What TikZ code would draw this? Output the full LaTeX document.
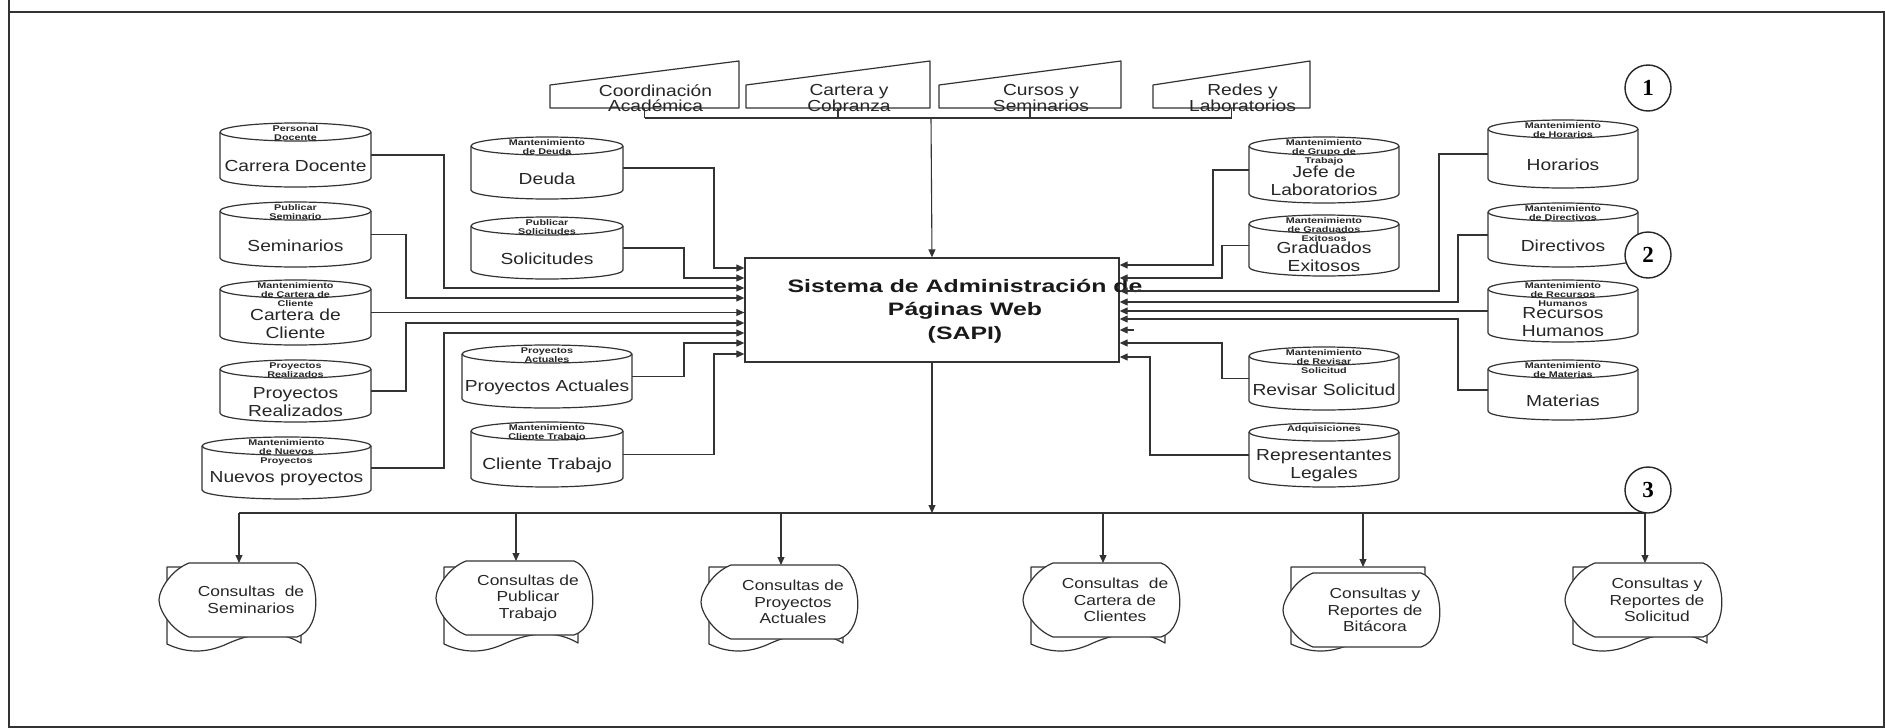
\documentclass[tikz,border=0pt]{standalone}
\usepackage{fontspec}
\setmainfont{Liberation Sans}
\newfontfamily\labf[FakeStretch=1.2]{Liberation Sans}
\newfontfamily\smlf[FakeStretch=1.3]{Liberation Sans}
\newfontfamily\ttlf[FakeStretch=1.38]{Liberation Sans}
\newfontfamily\numf{Liberation Serif}
\usetikzlibrary{arrows.meta,calc}

\tikzset{
  ln/.style={draw=black!80, line width=1.1pt},
  arr/.style={ln, -{Triangle[length=8pt,width=7pt]}},
  box0/.style={inner sep=0pt, outer sep=0pt, draw=none, rectangle},
  cylline/.style={draw=black!80, line width=1.2pt, line join=round},
  lab/.style={font=\labf\fontsize{16}{18}\selectfont, align=center, inner sep=0pt, text=black!85},
  sml/.style={font=\smlf\bfseries\fontsize{8.3}{8.7}\selectfont, align=center, inner sep=0pt, text=black!85},
  trl/.style={font=\labf\fontsize{16}{14.5}\selectfont, align=center, inner sep=0pt, text=black!85},
  docl/.style={font=\labf\fontsize{14.5}{16.5}\selectfont, align=center, inner sep=0pt, text=black!85},
  ttl/.style={font=\ttlf\bfseries\fontsize{18}{23.5}\selectfont, align=center, inner sep=0pt, text=black!90},
  mainbox/.style={draw=black!80, line width=1.3pt, inner sep=0pt, minimum width=374pt, minimum height=104pt},
  circ/.style={circle, draw=black!85, line width=1.4pt, fill=white, minimum size=46pt, inner sep=0pt,
     font=\numf\bfseries\fontsize{23}{23}\selectfont},
  frame/.style={draw=black!80, line width=1.6pt}
}

% cylinder: name, x0, y0, x1, y1, small label, main label
\newcommand\mkcyl[7]{%
  \pgfmathsetmacro\xc{(#2+#4)/2}%
  \pgfmathsetmacro\rx{(#4-#2)/2}%
  \pgfmathsetmacro\ww{#4-#2}%
  \pgfmathsetmacro\hh{#5-#3}%
  \pgfmathsetmacro\yc{(#3+#5)/2}%
  \pgfmathsetmacro\yt{#3+9}%
  \pgfmathsetmacro\ybb{#5-9}%
  \pgfmathsetmacro\kx{0.5523*\rx}%
  \pgfmathsetmacro\ky{0.5523*9}%
  \pgfmathsetmacro\ym{(#3+18+#5)/2+2}%
  \node[box0, minimum width=\ww pt, minimum height=\hh pt] (#1) at (\xc,\yc) {};
  \draw[cylline] (#2,\yt) -- (#2,\ybb) .. controls (#2,\ybb+\ky) and (\xc-\kx,#5) .. (\xc,#5)
     .. controls (\xc+\kx,#5) and (#4,\ybb+\ky) .. (#4,\ybb) -- (#4,\yt);
  \draw[cylline] (\xc,\yt) ellipse [x radius=\rx pt, y radius=9pt];
  \node[sml, anchor=north] (#1s) at (\xc,#3+2.5) {#6};
  \node[lab] (#1m) at (\xc,\ym) {#7};
}

% manual input shape: name, x0, x1, line1, line2
\newcommand\mktrap[5]{%
  \pgfmathsetmacro\tc{(#2+#3)/2}%
  \pgfmathsetmacro\tw{#3-#2}%
  \node[box0, minimum width=\tw pt, minimum height=47pt] (#1) at (\tc,84.5) {};
  \draw[cylline] (#1.south west) -- (#2,85) -- (#1.north east) -- (#1.south east) -- cycle;
  \node[trl] (#1t) at (\tc+11,98) {#4\\#5};
}

% document + display: name, cx, text, front dy
\newcommand\mkdoc[4]{%
  \pgfmathsetmacro\dx{#2}%
  \pgfmathsetmacro\fy{600+#4}%
  \draw[cylline, fill=white] (\dx-72,567) -- (\dx+62,567) -- (\dx+62,643)
     .. controls (\dx+40,630) and (\dx+15,632) .. (\dx-10,643)
     .. controls (\dx-35,655) and (\dx-55,652) .. (\dx-72,644) -- cycle;
  \draw[cylline, fill=white] (\dx-50,\fy-37) -- (\dx+58,\fy-37)
     .. controls (\dx+80,\fy-30) and (\dx+86,\fy+28) .. (\dx+58,\fy+37) -- (\dx-50,\fy+37)
     .. controls (\dx-68,\fy+30) and (\dx-80,\fy+10) .. (\dx-80,\fy)
     .. controls (\dx-80,\fy-10) and (\dx-68,\fy-30) .. (\dx-50,\fy-37) -- cycle;
  \node[box0, minimum width=160pt, minimum height=74pt] (#1) at (\dx,\fy) {};
  \coordinate (#1b) at (\dx,567);
  \node[docl] (#1t) at (\dx+12,\fy) {#3};
}

\begin{document}
\begin{tikzpicture}[x=1pt,y=-1pt]
\useasboundingbox (0,0) rectangle (1885,728);
\fill[white] (0,0) rectangle (1885,728);

% frame
\draw[frame] (9,0) -- (9,727) -- (1884,727) -- (1884,12);
\draw[frame] (9,12) -- (1885,12);

% central box
\node[mainbox] (box) at (932,310) {};
\node[ttl] (title) at (965,311) {Sistema de Administración de\\Páginas Web\\(SAPI)};

% top manual inputs
\mktrap{T1}{550}{739}{Coordinación}{Académica}
\mktrap{T2}{746}{930}{Cartera y}{Cobranza}
\mktrap{T3}{939}{1121}{Cursos y}{Seminarios}
\mktrap{T4}{1153}{1310}{Redes y}{Laboratorios}
\coordinate (tbus) at (931,118);
\draw[ln] (T1.south |- tbus) -- (T4.south |- tbus);
\foreach \t in {T1,T2,T3,T4} \draw[ln] (\t.south) -- (\t.south |- tbus);
\draw[arr] (tbus) -- (box.north);

% left column
\mkcyl{CD}{220}{123}{371}{187}{Personal\\Docente}{Carrera Docente}
\mkcyl{SE}{220}{202}{371}{267}{Publicar\\Seminario}{Seminarios}
\mkcyl{CC}{220}{280}{371}{345}{Mantenimiento\\de Cartera de\\Cliente}{Cartera de\\Cliente}
\mkcyl{PR}{220}{360}{371}{422}{Proyectos\\Realizados}{Proyectos\\Realizados}
\mkcyl{NP}{202}{437}{371}{499}{Mantenimiento\\de Nuevos\\Proyectos}{Nuevos proyectos}
% second column
\mkcyl{DE}{471}{137}{623}{199}{Mantenimiento\\de Deuda}{Deuda}
\mkcyl{SO}{471}{217}{623}{279}{Publicar\\Solicitudes}{Solicitudes}
\mkcyl{PA}{462}{345}{632}{408}{Proyectos\\Actuales}{Proyectos Actuales}
\mkcyl{CT}{471}{422}{623}{487}{Mantenimiento\\Cliente Trabajo}{Cliente Trabajo}
% right inner column
\mkcyl{JL}{1249}{137}{1399}{203}{Mantenimiento\\de Grupo de\\Trabajo}{Jefe de\\Laboratorios}
\mkcyl{GE}{1249}{215}{1399}{276}{Mantenimiento\\de Graduados\\Exitosos}{Graduados\\Exitosos}
\mkcyl{RS}{1249}{347}{1399}{410}{Mantenimiento\\de Revisar\\Solicitud}{Revisar Solicitud}
\mkcyl{RL}{1249}{423}{1399}{487}{Adquisiciones}{Representantes\\Legales}
% right outer column
\mkcyl{HO}{1488}{120}{1638}{188}{Mantenimiento\\de Horarios}{Horarios}
\mkcyl{DI}{1488}{203}{1638}{267}{Mantenimiento\\de Directivos}{Directivos}
\mkcyl{RH}{1488}{280}{1638}{342}{Mantenimiento\\de Recursos\\Humanos}{Recursos\\Humanos}
\mkcyl{MA}{1488}{360}{1638}{420}{Mantenimiento\\de Materias}{Materias}

% left connectors
\draw[arr] (DE.east) -| (714,268) -- (box.west |- 0,268);
\draw[arr] (SO.east) -| (684,278) -- (box.west |- 0,278);
\draw[arr] (CD.east) -| (444,288) -- (box.west |- 0,288);
\draw[arr] (SE.east) -| (406,298) -- (box.west |- 0,298);
\draw[arr] (CC.east) -- (box.west |- CC.east);
\draw[arr] (PR.east) -| (406,323) -- (box.west |- 0,323);
\draw[arr] (NP.east) -| (444,333) -- (box.west |- 0,333);
\draw[arr] (PA.east) -| (684,343) -- (box.west |- 0,343);
\draw[arr] (CT.east) -| (714,354) -- (box.west |- 0,354);

% right connectors
\draw[arr] (JL.west) -| (1213,265) -- (box.east |- 0,265);
\draw[arr] (GE.west) -| (1222,278) -- (box.east |- 0,278);
\draw[arr] (HO.west) -| (1439,291) -- (box.east |- 0,291);
\draw[arr] (DI.west) -| (1458,302) -- (box.east |- 0,302);
\draw[arr] (RH.west) -- (box.east |- RH.west);
\draw[arr] (MA.west) -| (1458,319) -- (box.east |- 0,319);
\coordinate (stub) at (1134,330);
\draw[arr] (stub) -- (box.east |- stub);
\draw[arr] (RS.west) -| (1222,343) -- (box.east |- 0,343);
\draw[arr] (RL.west) -| (1150,357) -- (box.east |- 0,357);

% bottom outputs
\mkdoc{D1}{239}{Consultas\ \ de\\Seminarios}{0}
\mkdoc{D2}{516}{Consultas de\\Publicar\\Trabajo}{-2}
\mkdoc{D3}{781}{Consultas de\\Proyectos\\Actuales}{2}
\mkdoc{D4}{1103}{Consultas\ \ de\\Cartera de\\Clientes}{0}
\mkdoc{D5}{1363}{Consultas y\\Reportes de\\Bitácora}{10}
\mkdoc{D6}{1645}{Consultas y\\Reportes de\\Solicitud}{0}
\coordinate (bus) at (932,513);
\draw[arr] (box.south) -- (bus);
\draw[ln] (D1.north |- bus) -- (D6.north |- bus);
\foreach \d in {D1,D2,D3,D4,D6} \draw[arr] (\d.north |- bus) -- (\d.north);
\draw[arr] (D5.north |- bus) -- (D5b);

% circled numbers
\node[circ] (c1) at (1648,88) {1};
\node[circ] (c2) at (1648,255) {2};
\node[circ] (c3) at (1648,490) {3};
\end{tikzpicture}
\end{document}
